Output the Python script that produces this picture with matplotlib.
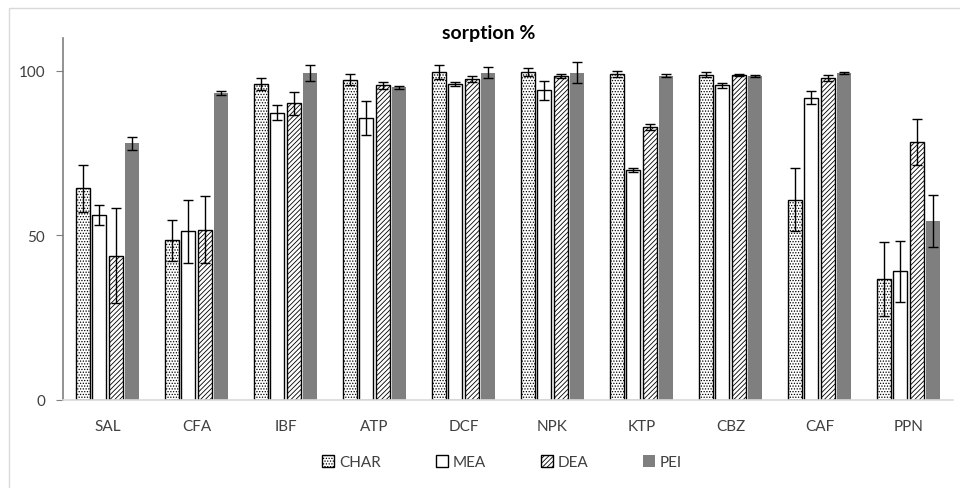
import matplotlib
matplotlib.use("Agg")
import matplotlib.pyplot as plt
import numpy as np
from matplotlib.patches import Rectangle

plt.rcParams['font.family'] = ['Lato', 'DejaVu Sans']
plt.rcParams['hatch.linewidth'] = 0.6

categories = ["SAL", "CFA", "IBF", "ATP", "DCF", "NPK", "KTP", "CBZ", "CAF", "PPN"]
series = ["CHAR", "MEA", "DEA", "PEI"]
char_vals = [64.3, 48.5, 96.0, 97.3, 99.7, 99.7, 99.1, 98.9, 60.9, 36.7]
char_err = [7.1, 6.2, 1.8, 1.7, 2.2, 1.2, 1.0, 0.8, 9.6, 11.2]
mea_vals = [56.2, 51.3, 87.3, 85.7, 96.0, 94.1, 69.8, 95.6, 91.9, 39.1]
mea_err = [3.0, 9.6, 2.3, 5.2, 0.6, 2.8, 0.6, 0.8, 2.0, 9.3]
dea_vals = [43.8, 51.8, 90.1, 95.6, 97.5, 98.4, 82.9, 98.9, 97.8, 78.5]
dea_err = [14.4, 10.3, 3.5, 1.0, 1.0, 0.6, 1.0, 0.3, 1.0, 7.0]
pei_vals = [78.0, 93.3, 99.3, 95.0, 99.5, 99.5, 98.5, 98.5, 99.3, 54.4]
pei_err = [2.0, 0.5, 2.5, 0.5, 1.6, 3.1, 0.5, 0.2, 0.3, 8.0]
yticks = [0, 50, 100]

vals = [char_vals, mea_vals, dea_vals, pei_vals]
errs = [char_err, mea_err, dea_err, pei_err]
styles = [
    dict(facecolor="white", edgecolor="black", hatch="......", linewidth=1.0),
    dict(facecolor="white", edgecolor="black", hatch=None, linewidth=1.0),
    dict(facecolor="white", edgecolor="black", hatch="///////", linewidth=1.0),
    dict(facecolor="#7f7f7f", edgecolor="#7f7f7f", hatch=None, linewidth=0.0),
]

fig = plt.figure(figsize=(9.6, 4.89), dpi=100)
ax = fig.add_axes([63/960, 1-401/489, 890/960, (401-39)/489])

x = np.arange(len(categories))
slot = 0.183
bw = 0.155
for i, (v, e, st) in enumerate(zip(vals, errs, styles)):
    pos = x + (i - 1.5) * slot
    ax.bar(pos, v, width=bw, label=series[i], **st)
    ax.errorbar(pos, v, yerr=e, fmt="none", ecolor="black", elinewidth=1.0,
                capsize=3.5, capthick=1.0)

ax.set_xlim(-0.5, len(categories) - 0.5)
ax.set_ylim(0, 110)
ax.set_xticks(x)
ax.set_xticklabels(categories, fontsize=11, color="#404040")
ax.set_yticks(yticks)
ax.set_yticklabels([str(t) for t in yticks], fontsize=11, color="#404040")
ax.tick_params(axis="x", length=0, pad=14)
ax.tick_params(axis="y", length=5, direction="out", color="#7f7f7f", pad=8)
for s in ["top", "right"]:
    ax.spines[s].set_visible(False)
ax.spines["left"].set_color("#7f7f7f")
ax.spines["bottom"].set_color("#d9d9d9")
ax.spines["left"].set_linewidth(1.2)
ax.spines["bottom"].set_linewidth(1.2)

fig.text(489/960, 1-34/489, "sorption %", ha="center", va="center",
         fontsize=14, fontweight="bold", color="black")

leg = fig.legend(loc="center", bbox_to_anchor=(502/960, 1-463/489), ncol=4,
                 frameon=False, fontsize=11, handlelength=0.8, handleheight=0.8,
                 handletextpad=0.3, columnspacing=3.6)
for t in leg.get_texts():
    t.set_color("#404040")

fig.patches.append(Rectangle((9/960, -0.1), 1.2, 1 - 9/489 + 0.1,
                             transform=fig.transFigure, fill=False,
                             edgecolor="#d9d9d9", linewidth=1.0))

fig.savefig("out.png", dpi=100)
